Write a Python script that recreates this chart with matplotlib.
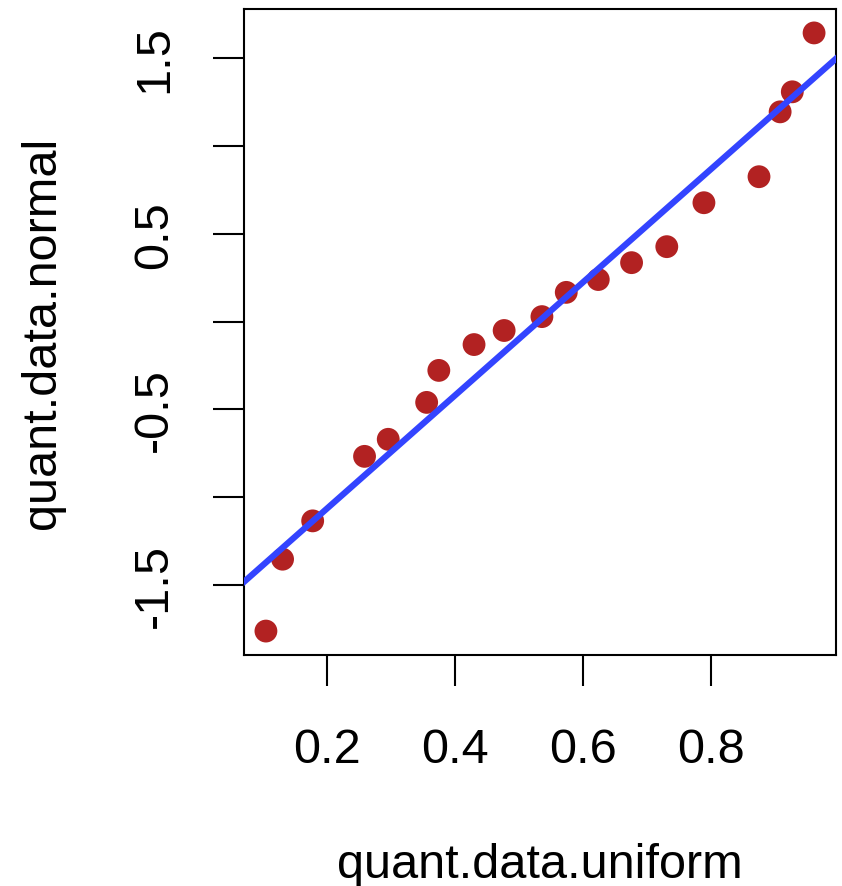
import numpy as np
import matplotlib.pyplot as plt

# Q-Q style plot: uniform quantiles vs normal quantiles, with a fitted line

quant_uniform = [0.105, 0.131, 0.178, 0.259, 0.296, 0.356, 0.375, 0.430, 0.477, 0.536,
                 0.574, 0.624, 0.676, 0.731, 0.789, 0.875, 0.908, 0.927, 0.961]
quant_normal = [-1.761, -1.352, -1.134, -0.767, -0.670, -0.460, -0.278, -0.131, -0.051, 0.028,
                0.166, 0.239, 0.335, 0.426, 0.676, 0.824, 1.193, 1.307, 1.642]

line_intercept = -1.709
line_slope = 3.22

x_ticks = [0.2, 0.4, 0.6, 0.8]
y_ticks = [-1.5, -1.0, -0.5, 0.0, 0.5, 1.0, 1.5]
y_ticklabels = ['-1.5', '', '-0.5', '', '0.5', '', '1.5']

plt.rcParams['font.family'] = ['Liberation Sans', 'DejaVu Sans']


def r_limits(values, frac=0.04):
    lo, hi = min(values), max(values)
    pad = (hi - lo) * frac
    return lo - pad, hi + pad


def main():
    fig = plt.figure(figsize=(8.42, 8.87), dpi=100)
    ax = fig.add_axes([244 / 842, 1 - 656 / 887, 592 / 842, 646 / 887])

    ax.scatter(quant_uniform, quant_normal, s=270, color='#B22222', edgecolors='none', zorder=2)
    ax.axline((0, line_intercept), slope=line_slope, color='#3344FF', linewidth=4.5, zorder=3)

    ax.set_xlim(*r_limits(quant_uniform))
    ax.set_ylim(*r_limits(quant_normal))

    ax.set_xticks(x_ticks)
    ax.set_xticklabels([f'{t:.1f}' for t in x_ticks])
    ax.set_yticks(y_ticks)
    ax.set_yticklabels(y_ticklabels, rotation=90, va='center')

    ax.tick_params(axis='both', length=22, width=1.5, labelsize=35, color='black')
    ax.tick_params(axis='x', pad=30)
    ax.tick_params(axis='y', pad=26)
    for spine in ax.spines.values():
        spine.set_linewidth(1.5)

    ax.set_xlabel('quant.data.uniform', fontsize=35)
    ax.set_ylabel('quant.data.normal', fontsize=35)
    ax.xaxis.set_label_coords(0.5, -0.289)
    ax.yaxis.set_label_coords(-0.302, 0.5)

    fig.savefig('out.png', dpi=100)


if __name__ == "__main__":
    main()
